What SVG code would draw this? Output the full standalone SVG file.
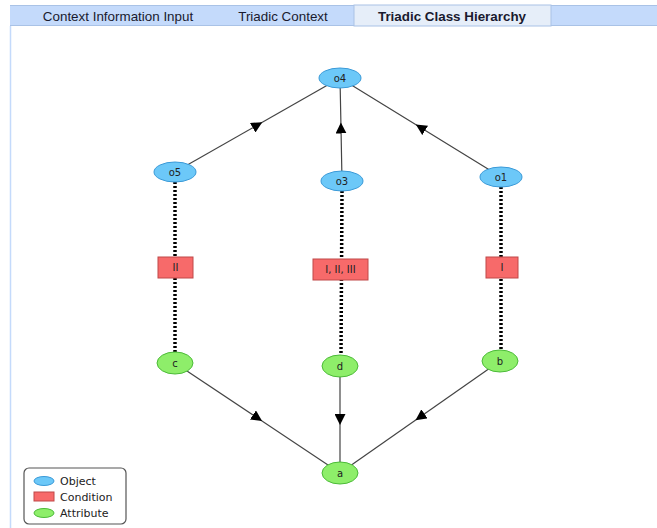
<svg xmlns="http://www.w3.org/2000/svg" width="657" height="528" viewBox="0 0 657 528">
<defs>
<style>
.tab{font-family:"Liberation Sans",Arial,sans-serif;font-size:13.4px;fill:#1a1a2e;text-anchor:middle}
.lbl{font-family:"DejaVu Sans",sans-serif;font-size:10px;fill:#222;text-anchor:middle;dominant-baseline:central}
.leg{font-family:"DejaVu Sans",sans-serif;font-size:11px;fill:#222;dominant-baseline:central}
.obj{fill:#6cc8f8;stroke:#3a9ad8;stroke-width:1}
.cond{fill:#f76a6a;stroke:#c04848;stroke-width:1}
.attr{fill:#8eee6a;stroke:#4cbb38;stroke-width:1}
.edge{stroke:#444;stroke-width:1.2;fill:none;marker-mid:url(#tri)}
.dot{stroke:#000;stroke-width:3.5;stroke-dasharray:2 2;fill:none}
</style>
<marker id="tri" viewBox="0 0 10 10" refX="5" refY="5" markerWidth="11" markerHeight="11" markerUnits="userSpaceOnUse" orient="auto">
<path d="M0,0 L10,5 L0,10 Z" fill="#000"/>
</marker>
</defs>
<rect x="0" y="0" width="657" height="528" fill="#ffffff"/>
<g id="tabs">
<rect x="10" y="5" width="647" height="21" fill="#c4dafb"/>
<line x1="10" y1="5.5" x2="657" y2="5.5" stroke="#a9c2e6"/>
<line x1="10" y1="25.5" x2="657" y2="25.5" stroke="#a9c2e6"/>
<rect x="354" y="5" width="197" height="21" fill="#e6eef9" stroke="#a9c2e6"/>
<text class="tab" x="118" y="20.5">Context Information Input</text>
<text class="tab" x="283" y="20.5">Triadic Context</text>
<text class="tab" x="452" y="20.5" font-weight="bold">Triadic Class Hierarchy</text>
<line x1="10.5" y1="26" x2="10.5" y2="528" stroke="#c4dafb" stroke-width="1.5"/>
</g>
<g id="connectors">
<path class="edge" d="M175,172 L257.5,125 L340,78"/>
<path class="edge" d="M342,181 L341,128 L340,78"/>
<path class="edge" d="M501,177 L420.5,127.5 L340,78"/>
<path class="edge" d="M175,363 L257.5,418 L340,473"/>
<path class="edge" d="M340,366 L340,419.5 L340,473"/>
<path class="edge" d="M500,361 L420,417 L340,473"/>
<line class="dot" x1="175" y1="182" x2="175" y2="352"/>
<line class="dot" x1="342" y1="191" x2="341" y2="355"/>
<line class="dot" x1="501" y1="187" x2="501" y2="350"/>
</g>
<g id="o4"><ellipse class="obj" cx="340" cy="78" rx="21" ry="10"/><text class="lbl" x="340" y="78">o4</text></g>
<g id="o5"><ellipse class="obj" cx="175" cy="172" rx="21" ry="10"/><text class="lbl" x="175" y="172">o5</text></g>
<g id="o3"><ellipse class="obj" cx="342" cy="181" rx="21" ry="10"/><text class="lbl" x="342" y="181">o3</text></g>
<g id="o1"><ellipse class="obj" cx="501" cy="177" rx="21" ry="10"/><text class="lbl" x="501" y="177">o1</text></g>
<g id="II"><rect class="cond" x="158" y="257" width="35" height="21"/><text class="lbl" x="175.5" y="267.5">II</text></g>
<g id="I_II_III"><rect class="cond" x="313" y="259" width="55" height="21"/><text class="lbl" x="340.5" y="269.5">I, II, III</text></g>
<g id="I"><rect class="cond" x="486" y="257" width="32" height="21"/><text class="lbl" x="502" y="267.5">I</text></g>
<g id="c"><ellipse class="attr" cx="175" cy="363" rx="18" ry="11"/><text class="lbl" x="175" y="363">c</text></g>
<g id="d"><ellipse class="attr" cx="340" cy="366" rx="18" ry="11"/><text class="lbl" x="340" y="366">d</text></g>
<g id="b"><ellipse class="attr" cx="500" cy="361" rx="18" ry="11"/><text class="lbl" x="500" y="361">b</text></g>
<g id="a"><ellipse class="attr" cx="340" cy="473" rx="18" ry="11"/><text class="lbl" x="340" y="473">a</text></g>
<g id="legend">
<rect x="24" y="468" width="102" height="56" rx="5" fill="#fff" stroke="#555" stroke-width="1.2"/>
<ellipse class="obj" cx="44" cy="481" rx="10" ry="4.5"/>
<text class="leg" x="60" y="481">Object</text>
<rect class="cond" x="34" y="492" width="20" height="9"/>
<text class="leg" x="60" y="497">Condition</text>
<ellipse class="attr" cx="44" cy="513" rx="10" ry="4.5"/>
<text class="leg" x="60" y="513">Attribute</text>
</g>
</svg>
